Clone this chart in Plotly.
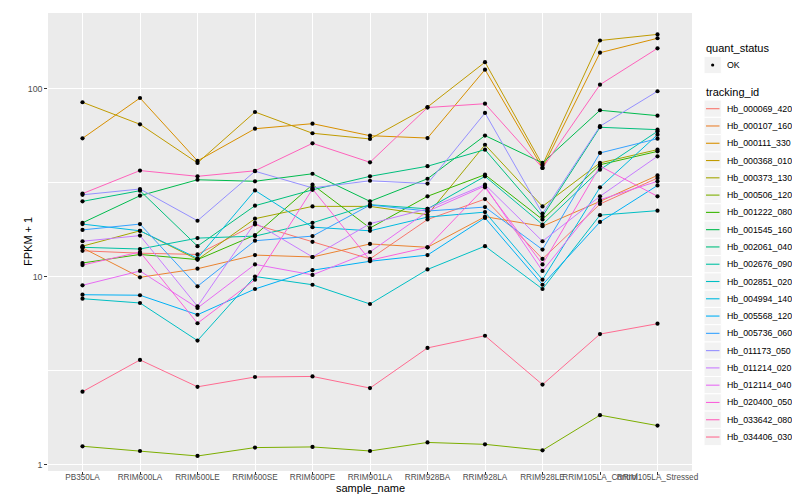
import plotly.graph_objects as go

samples = ["PB350LA", "RRIM600LA", "RRIM600LE", "RRIM600SE", "RRIM600PE", "RRIM901LA",
           "RRIM928BA", "RRIM928LA", "RRIM928LE", "RRIM105LA_Control", "RRIM105LA_Stressed"]

tracking_ids = ["Hb_000069_420", "Hb_000107_160", "Hb_000111_330", "Hb_000368_010", "Hb_000373_130",
                "Hb_000506_120", "Hb_001222_080", "Hb_001545_160", "Hb_002061_040", "Hb_002676_090",
                "Hb_002851_020", "Hb_004994_140", "Hb_005568_120", "Hb_005736_060", "Hb_011173_050",
                "Hb_011214_020", "Hb_012114_040", "Hb_020400_050", "Hb_033642_080", "Hb_034406_030"]

colors = ["#F8766D", "#EA8331", "#D89000", "#C09B00", "#A3A500", "#7CAE00", "#39B600", "#00BB4E",
          "#00BF7D", "#00C1A3", "#00BFC4", "#00BAE0", "#00B0F6", "#35A2FF", "#9590FF", "#C77CFF",
          "#E76BF3", "#FA62DB", "#FF62BC", "#FF6C91"]

# FPKM + 1 values, one list per gene, in sample order
hb_000069_420 = [13.7, 13.3, 13.1, 18.9, 15.3, 12.4, 20.1, 25.8, 12.4, 24.3, 33.4]
hb_000107_160 = [14.2, 9.9, 11.0, 13.0, 12.7, 14.9, 14.3, 20.8, 18.5, 25.1, 34.5]
hb_000111_330 = [54.3, 89.0, 41.2, 61.1, 65.0, 56.1, 54.5, 126.0, 37.8, 155.0, 185.0]
hb_000368_010 = [84.5, 64.5, 40.2, 75.0, 57.8, 53.9, 79.7, 138.0, 39.2, 180.0, 194.0]
hb_000373_130 = [14.5, 17.5, 12.3, 20.3, 23.6, 23.6, 21.3, 50.2, 23.6, 40.2, 47.3]
hb_000506_120 = [1.25, 1.18, 1.11, 1.23, 1.24, 1.18, 1.31, 1.28, 1.19, 1.83, 1.61]
hb_001222_080 = [11.8, 13.1, 12.3, 16.6, 30.8, 18.1, 26.7, 34.8, 20.1, 39.3, 46.3]
hb_001545_160 = [19.3, 26.9, 32.7, 32.1, 35.2, 25.1, 33.1, 56.2, 40.2, 76.6, 71.7]
hb_002061_040 = [25.1, 28.6, 14.5, 23.8, 28.9, 34.1, 38.6, 47.3, 20.9, 62.2, 60.4]
hb_002676_090 = [14.3, 14.0, 16.0, 16.4, 19.3, 24.1, 22.9, 34.1, 18.9, 37.0, 59.2]
hb_002851_020 = [7.62, 7.23, 4.56, 10.0, 9.04, 7.14, 10.9, 14.5, 8.58, 21.2, 22.4]
hb_004994_140 = [19.0, 17.5, 12.5, 28.7, 18.3, 17.5, 20.7, 22.0, 9.62, 29.8, 56.8]
hb_005568_120 = [8.0, 7.95, 6.26, 8.58, 10.8, 12.05, 13.0, 20.5, 9.04, 19.5, 30.5]
hb_005736_060 = [17.7, 19.0, 8.87, 15.5, 16.4, 24.0, 22.3, 23.4, 13.9, 45.4, 54.1]
hb_011173_050 = [27.2, 29.2, 19.8, 36.3, 29.6, 32.3, 31.2, 74.1, 21.6, 63.0, 96.7]
hb_011214_020 = [15.4, 16.5, 6.94, 19.3, 12.7, 19.1, 22.9, 30.8, 15.4, 26.7, 43.6]
hb_012114_040 = [8.98, 10.7, 6.80, 11.6, 10.2, 13.5, 22.2, 30.3, 10.7, 25.6, 32.1]
hb_020400_050 = [11.5, 13.5, 5.64, 9.62, 29.2, 12.2, 14.3, 29.8, 11.6, 38.6, 26.7]
hb_033642_080 = [27.6, 36.6, 34.1, 36.5, 51.1, 40.5, 79.2, 83.0, 37.8, 104.8, 163.6]
hb_034406_030 = [2.44, 3.60, 2.59, 2.92, 2.94, 2.55, 4.17, 4.84, 2.66, 4.94, 5.61]

series = [hb_000069_420, hb_000107_160, hb_000111_330, hb_000368_010, hb_000373_130,
          hb_000506_120, hb_001222_080, hb_001545_160, hb_002061_040, hb_002676_090,
          hb_002851_020, hb_004994_140, hb_005568_120, hb_005736_060, hb_011173_050,
          hb_011214_020, hb_012114_040, hb_020400_050, hb_033642_080, hb_034406_030]

y_ticks = [1, 10, 100]
y_minor = [3.1623, 31.623]

FONT = "Liberation Sans, Arial, sans-serif"
W, H = 800, 500
PL, PR, PT, PB = 40, 684, 5, 463


def px(x, y):
    return (x - PL) / (PR - PL), (PB - y) / (PB - PT)


fig = go.Figure()
for tid, col, vals in zip(tracking_ids, colors, series):
    fig.add_trace(go.Scatter(x=samples, y=vals, mode="lines", name=tid,
                             line=dict(color=col, width=1.0), showlegend=False,
                             hoverinfo="skip"))

all_x = [s for vals in series for s in samples]
all_y = [v for vals in series for v in vals]
fig.add_trace(go.Scatter(x=all_x, y=all_y, mode="markers", showlegend=False,
                         marker=dict(color="black", size=4.2, line=dict(width=0))))

shapes = []
annotations = []

# axis titles
ax, ay = px(12, (PT + PB) / 2)
annotations.append(dict(x=ax, y=ay, xref="paper", yref="paper", text="FPKM + 1",
                        textangle=-90, showarrow=False, font=dict(size=11, color="black", family=FONT)))
bx, by = px((PL + PR) / 2, 488)
annotations.append(dict(x=bx, y=by, xref="paper", yref="paper", text="sample_name",
                        showarrow=False, font=dict(size=11, color="black", family=FONT)))

# legend: quant_status
tx, ty = px(696, 40)
annotations.append(dict(x=tx, y=ty, xref="paper", yref="paper", text="quant_status", xanchor="left",
                        yanchor="middle", showarrow=False, font=dict(size=11, color="black", family=FONT)))
KEY = 17.28
kx0, kx1 = 696, 713.3
cy = 57.0
x0, y0 = px(kx0, cy - KEY / 2)
x1, y1 = px(kx1, cy + KEY / 2)
shapes.append(dict(type="rect", xref="paper", yref="paper", x0=x0, x1=x1, y0=y0, y1=y1,
                   fillcolor="#F2F2F2", line=dict(color="white", width=1), layer="above"))
dx0, dy0 = px(704.65 - 1.6, cy - 1.6)
dx1, dy1 = px(704.65 + 1.6, cy + 1.6)
shapes.append(dict(type="circle", xref="paper", yref="paper", x0=dx0, x1=dx1, y0=dy0, y1=dy1,
                   fillcolor="black", line=dict(color="black", width=0), layer="above"))
lx, ly = px(716.7, cy)
annotations.append(dict(x=lx, y=ly, xref="paper", yref="paper", text="OK", xanchor="left",
                        yanchor="middle", showarrow=False, font=dict(size=8.8, color="black", family=FONT)))

# legend: tracking_id
tx, ty = px(696, 84)
annotations.append(dict(x=tx, y=ty, xref="paper", yref="paper", text="tracking_id", xanchor="left",
                        yanchor="middle", showarrow=False, font=dict(size=11, color="black", family=FONT)))
for i, (tid, col) in enumerate(zip(tracking_ids, colors)):
    cy = 100.7 + i * KEY
    x0, y0 = px(kx0, cy - KEY / 2)
    x1, y1 = px(kx1, cy + KEY / 2)
    shapes.append(dict(type="rect", xref="paper", yref="paper", x0=x0, x1=x1, y0=y0, y1=y1,
                       fillcolor="#F2F2F2", line=dict(color="white", width=1), layer="above"))
    a0, b0 = px(698, cy)
    a1, b1 = px(711.5, cy)
    shapes.append(dict(type="line", xref="paper", yref="paper", x0=a0, x1=a1, y0=b0, y1=b1,
                       line=dict(color=col, width=1.1), layer="above"))
    lx, ly = px(716.7, cy)
    annotations.append(dict(x=lx, y=ly, xref="paper", yref="paper", text=tid, xanchor="left",
                            yanchor="middle", showarrow=False,
                            font=dict(size=8.8, color="black", family=FONT)))

fig.update_layout(
    width=W, height=H,
    margin=dict(l=PL, r=W - PR, t=PT, b=H - PB, pad=0),
    paper_bgcolor="white", plot_bgcolor="#EBEBEB",
    font=dict(family=FONT, color="#4D4D4D", size=8.8),
    showlegend=False,
    shapes=shapes, annotations=annotations,
    xaxis=dict(type="category", categoryorder="array", categoryarray=samples,
               range=[-0.6, 10.6], showgrid=True, gridcolor="white", gridwidth=1.07,
               zeroline=False, showline=False, ticks="outside", ticklen=2.75,
               tickcolor="#333333", tickwidth=1, tickangle=0, ticklabelstandoff=-5,
               tickfont=dict(size=8.2, color="#4D4D4D", family=FONT)),
    yaxis=dict(type="log", range=[-0.0346, 2.4016], tickmode="array", tickvals=y_ticks,
               ticktext=[str(t) for t in y_ticks], showgrid=True, gridcolor="white",
               gridwidth=1.07, zeroline=False, showline=False, ticks="outside", ticklen=2.75,
               tickcolor="#333333", tickwidth=1,
               tickfont=dict(size=8.8, color="#4D4D4D", family=FONT),
               minor=dict(tickmode="array", tickvals=y_minor, showgrid=True,
                          gridcolor="white", gridwidth=0.53, ticks="")),
)

fig.write_html("out.html")
